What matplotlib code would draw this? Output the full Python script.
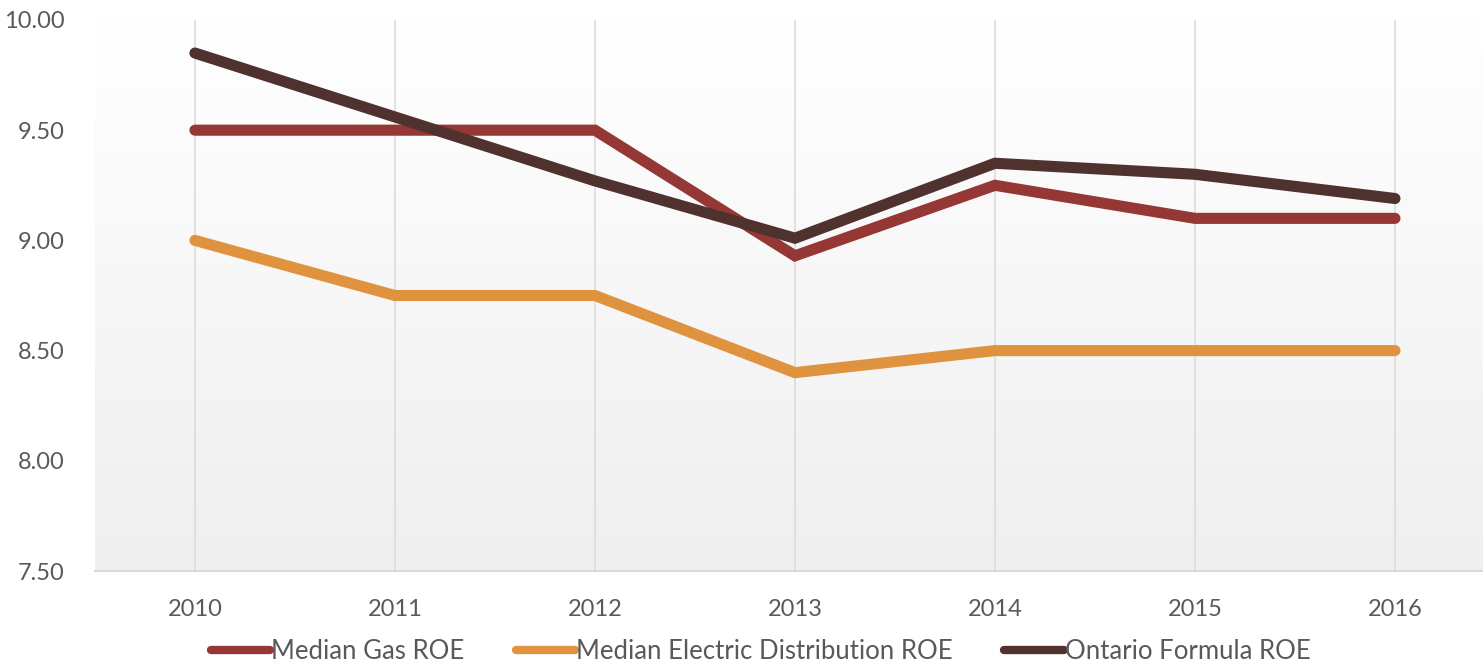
"""
ROE comparison: median gas, median electric distribution and Ontario formula
"""
import matplotlib.pyplot as plt
import numpy as np

years = [2010, 2011, 2012, 2013, 2014, 2015, 2016]
gas_roe = [9.50, 9.50, 9.50, 8.93, 9.25, 9.10, 9.10]
electric_roe = [9.00, 8.75, 8.75, 8.40, 8.50, 8.50, 8.50]
ontario_roe = [9.85, 9.56, 9.27, 9.01, 9.35, 9.30, 9.19]

series = [
    ("Median Gas ROE", gas_roe, "#953735"),
    ("Median Electric Distribution ROE", electric_roe, "#e0933f"),
    ("Ontario Formula ROE", ontario_roe, "#4f312e"),
]

plt.rcParams["font.family"] = ["Lato", "DejaVu Sans"]

fig = plt.figure(figsize=(14.83, 6.66), dpi=100)
ax = fig.add_axes([0.064, 0.1426, 0.936, 0.8274])

xmin, xmax = 2009.5, 2016.44
ymin, ymax = 7.5, 10.0

# soft vertical fill behind the plot, white at top to light gray at bottom
grad = np.linspace(0, 1, 256).reshape(-1, 1)
ax.imshow(
    grad,
    extent=[xmin, xmax, ymin, ymax],
    aspect="auto",
    cmap=plt.matplotlib.colors.LinearSegmentedColormap.from_list(
        "bg", ["#ffffff", "#efefef"]
    ),
    origin="upper",
    zorder=0,
)

for label, values, color in series:
    ax.plot(
        years,
        values,
        color=color,
        linewidth=8,
        solid_capstyle="round",
        solid_joinstyle="miter",
        label=label,
        zorder=3,
    )

ax.set_xlim(xmin, xmax)
ax.set_ylim(ymin, ymax)
ax.set_xticks(years)
ax.set_xticklabels([str(y) for y in years])
ax.set_yticks(np.arange(7.5, 10.01, 0.5))
ax.set_yticklabels([f"{v:.2f}" for v in np.arange(7.5, 10.01, 0.5)])

ax.xaxis.grid(True, color="#dcdcdc", linewidth=1.2, zorder=1)
ax.set_axisbelow(True)
for side in ["top", "right", "left"]:
    ax.spines[side].set_visible(False)
ax.spines["bottom"].set_color("#d9d9d9")
ax.spines["bottom"].set_linewidth(1.5)

ax.tick_params(axis="both", length=0, labelsize=17, colors="#595959")
ax.tick_params(axis="x", pad=20)
ax.tick_params(axis="y", pad=22)

leg = fig.legend(
    loc="lower center",
    bbox_to_anchor=(0.513, -0.031),
    ncol=3,
    frameon=False,
    fontsize=18.5,
    handlelength=2.3,
    handletextpad=0.05,
    columnspacing=2.0,
    labelcolor="#595959",
)
for line in leg.get_lines():
    line.set_linewidth(6)

plt.savefig("out.png", dpi=100)
